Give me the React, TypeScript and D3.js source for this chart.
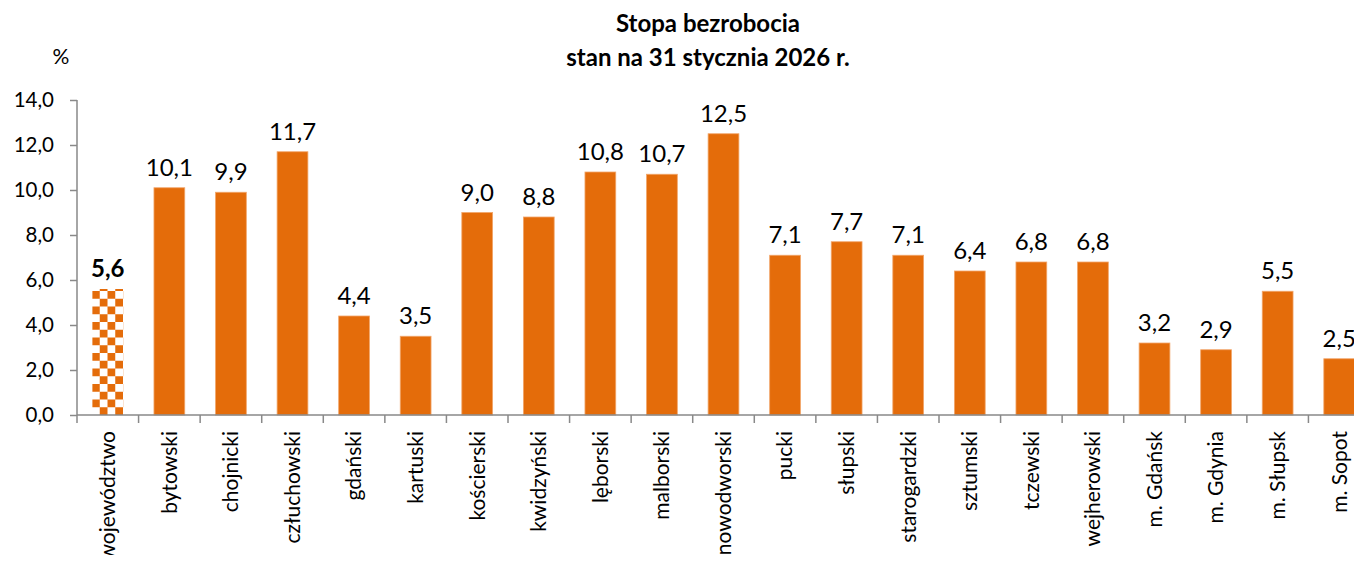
import React, { useEffect, useRef } from 'react';
import * as d3 from 'd3';

const categories = [
  'województwo', 'bytowski', 'chojnicki', 'człuchowski', 'gdański', 'kartuski',
  'kościerski', 'kwidzyński', 'lęborski', 'malborski', 'nowodworski', 'pucki',
  'słupski', 'starogardzki', 'sztumski', 'tczewski', 'wejherowski',
  'm. Gdańsk', 'm. Gdynia', 'm. Słupsk', 'm. Sopot',
];
const rates = [5.6, 10.1, 9.9, 11.7, 4.4, 3.5, 9.0, 8.8, 10.8, 10.7, 12.5, 7.1, 7.7, 7.1, 6.4, 6.8, 6.8, 3.2, 2.9, 5.5, 2.5];
const yTicks = [0, 2, 4, 6, 8, 10, 12, 14];
const titleLines = ['Stopa bezrobocia', 'stan na 31 stycznia 2026 r.'];

const App = () => {
  const svgRef = useRef<SVGSVGElement>(null);

  useEffect(() => {
    const width = 1362;
    const height = 563;
    const orange = '#E46C0A';
    const axisColor = '#898989';
    const font = 'Lato, "Open Sans", sans-serif';

    const svg = d3.select(svgRef.current);
    svg.selectAll('*').remove();
    svg.attr('width', width).attr('height', height);

    // checker pattern for the voivodeship bar
    const defs = svg.append('defs');
    const sq = 7.75;
    const pat = defs.append('pattern')
      .attr('id', 'checker')
      .attr('patternUnits', 'userSpaceOnUse')
      .attr('width', sq * 2)
      .attr('height', sq * 2)
      .attr('x', 92)
      .attr('y', 415);
    pat.append('rect').attr('width', sq * 2).attr('height', sq * 2).attr('fill', '#fff');
    pat.append('rect').attr('width', sq).attr('height', sq).attr('fill', orange);
    pat.append('rect').attr('x', sq).attr('y', sq).attr('width', sq).attr('height', sq).attr('fill', orange);

    const x = d3.scaleBand<string>()
      .domain(categories)
      .range([77, 1370])
      .paddingInner(0.5)
      .paddingOuter(0.25);

    const y = d3.scaleLinear()
      .domain([0, 14])
      .range([415, 100]);

    // title
    svg.append('g')
      .selectAll('text')
      .data(titleLines)
      .enter()
      .append('text')
      .attr('x', 708)
      .attr('y', (d, i) => 32 + i * 34)
      .attr('text-anchor', 'middle')
      .style('font-family', font)
      .style('font-size', '24px')
      .style('font-weight', 'bold')
      .text(d => d);

    svg.append('text')
      .attr('x', 61)
      .attr('y', 64)
      .attr('text-anchor', 'middle')
      .style('font-family', font)
      .style('font-size', '21px')
      .text('%');

    // bars
    svg.append('g')
      .selectAll('rect')
      .data(rates)
      .enter()
      .append('rect')
      .attr('x', (d, i) => x(categories[i])!)
      .attr('y', d => y(d))
      .attr('width', x.bandwidth())
      .attr('height', d => y(0) - y(d))
      .attr('fill', (d, i) => (i === 0 ? 'url(#checker)' : orange))
      .attr('stroke', (d, i) => (i === 0 ? 'none' : '#F2A66A'))
      .attr('stroke-width', 0.8);

    // value labels
    svg.append('g')
      .selectAll('text')
      .data(rates)
      .enter()
      .append('text')
      .attr('x', (d, i) => x(categories[i])! + x.bandwidth() / 2)
      .attr('y', d => y(d) - 12)
      .attr('text-anchor', 'middle')
      .style('font-family', font)
      .style('font-size', '24px')
      .style('font-weight', (d, i) => (i === 0 ? 'bold' : 'normal'))
      .text(d => d3.format('.1f')(d).replace('.', ','));

    // y axis
    const yAxis = svg.append('g')
      .attr('transform', 'translate(77,0)')
      .call(d3.axisLeft(y).tickValues(yTicks).tickSize(7).tickPadding(16)
        .tickFormat(d => d3.format('.1f')(d as number).replace('.', ',')));
    yAxis.select('.domain').attr('stroke', axisColor).attr('stroke-width', 1.5).attr('d', 'M0,100V415');
    yAxis.selectAll('line').attr('stroke', axisColor).attr('stroke-width', 1.5);
    yAxis.selectAll('text')
      .style('font-family', font)
      .style('font-size', '20.5px')
      .attr('fill', '#000');

    // x axis
    const xg = svg.append('g');
    xg.append('line')
      .attr('x1', 77).attr('x2', 1370)
      .attr('y1', y(0)).attr('y2', y(0))
      .attr('stroke', axisColor).attr('stroke-width', 1.5);
    xg.selectAll('line.tick')
      .data(d3.range(categories.length + 1))
      .enter()
      .append('line')
      .attr('class', 'tick')
      .attr('x1', i => 77 + i * x.step())
      .attr('x2', i => 77 + i * x.step())
      .attr('y1', y(0))
      .attr('y2', y(0) + 8)
      .attr('stroke', axisColor).attr('stroke-width', 1.5);

    xg.selectAll('text')
      .data(categories)
      .enter()
      .append('text')
      .attr('transform', d => `translate(${x(d)! + x.bandwidth() / 2},431) rotate(-90)`)
      .attr('text-anchor', 'end')
      .attr('dy', '0.35em')
      .style('font-family', font)
      .style('font-size', '21px')
      .text(d => d);
  }, []);

  return (
    <div style={{ margin: -8 }}>
      <svg ref={svgRef} style={{ display: 'block' }}></svg>
    </div>
  );
};

export default App;
